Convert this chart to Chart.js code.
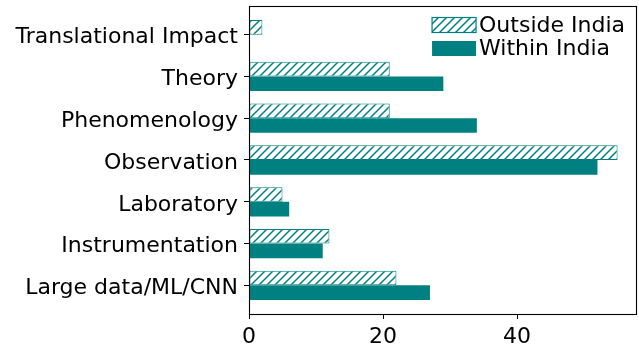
<!DOCTYPE html>
<html>
<head>
<meta charset="utf-8">
<script src="https://cdn.jsdelivr.net/npm/chart.js@4/dist/chart.umd.min.js"></script>
<style>
  html, body { margin: 0; padding: 0; background: #fff; }
  canvas { display: block; }
</style>
</head>
<body>
<canvas id="chart" width="639" height="346"></canvas>
<script>
// Research areas, listed bottom to top
const categories = [
  'Large data/ML/CNN',
  'Instrumentation',
  'Laboratory',
  'Observation',
  'Phenomenology',
  'Theory',
  'Translational Impact'
];
const outsideIndia = [22, 12, 5, 55, 21, 21, 2];
const withinIndia  = [27, 11, 6, 52, 34, 29, 0];
const xTicks = [0, 20, 40];

const TEAL = '#008080';

// Diagonal "//" hatch fill
function makeHatch(color) {
  const s = 8;
  const c = document.createElement('canvas');
  c.width = s; c.height = s;
  const g = c.getContext('2d');
  g.fillStyle = '#fff';
  g.fillRect(0, 0, s, s);
  g.strokeStyle = color;
  g.lineWidth = 1.5;
  g.beginPath();
  g.moveTo(-1, s + 1); g.lineTo(s + 1, -1);
  g.moveTo(-1, 1); g.lineTo(1, -1);
  g.moveTo(s - 1, s + 1); g.lineTo(s + 1, s - 1);
  g.stroke();
  return g.createPattern(c, 'repeat');
}

Chart.defaults.font.family = "'DejaVu Sans', sans-serif";
Chart.defaults.font.size = 22;
Chart.defaults.color = '#000';

// Box around the plotting area
const frame = {
  id: 'frame',
  afterDatasetsDraw(chart) {
    const { ctx, chartArea: a } = chart;
    ctx.save();
    ctx.strokeStyle = '#000';
    ctx.lineWidth = 1.1;
    ctx.strokeRect(Math.round(a.left) + 0.5, Math.round(a.top) + 0.5,
                   Math.round(a.right - a.left), Math.round(a.bottom - a.top));
    ctx.restore();
  }
};

// Legend drawn inside the upper-right corner of the plot
const innerLegend = {
  id: 'innerLegend',
  afterDraw(chart) {
    const { ctx, chartArea: a } = chart;
    const sets = chart.data.datasets;
    const textRight = a.right - 11;
    ctx.save();
    ctx.font = "22px 'DejaVu Sans', sans-serif";
    ctx.textBaseline = 'middle';
    ctx.textAlign = 'left';
    const widths = sets.map(d => ctx.measureText(d.label).width);
    const tw = Math.max(...widths);
    const textX = textRight - tw;
    const boxW = 44, boxH = 15;
    const boxX = textX - 3 - boxW;
    sets.forEach((d, i) => {
      const cy = a.top + 19 + i * 23.5;
      ctx.fillStyle = d.backgroundColor;
      ctx.fillRect(boxX, cy - boxH / 2, boxW, boxH);
      if (d.borderWidth) {
        ctx.strokeStyle = d.borderColor;
        ctx.lineWidth = 1.2;
        ctx.strokeRect(boxX, cy - boxH / 2, boxW, boxH);
      }
      ctx.fillStyle = '#000';
      ctx.fillText(d.label, textX, cy + 1);
    });
    ctx.restore();
  }
};

const toPoints = vals => vals.map((v, i) => ({ x: v, y: i }));

new Chart(document.getElementById('chart'), {
  type: 'bar',
  data: {
    datasets: [
      {
        label: 'Outside India',
        data: toPoints(outsideIndia),
        backgroundColor: makeHatch(TEAL),
        borderColor: TEAL,
        borderWidth: 1,
        borderSkipped: false
      },
      {
        label: 'Within India',
        data: toPoints(withinIndia),
        backgroundColor: TEAL,
        borderWidth: 0
      }
    ]
  },
  options: {
    indexAxis: 'y',
    responsive: false,
    animation: false,
    devicePixelRatio: 1,
    categoryPercentage: 0.7,
    barPercentage: 1.0,
    layout: { padding: { left: 0, top: 6, right: 3, bottom: 0 } },
    plugins: {
      legend: { display: false },
      tooltip: { enabled: false }
    },
    scales: {
      x: {
        type: 'linear',
        min: 0,
        max: 57.75,
        afterBuildTicks(scale) { scale.ticks = xTicks.map(v => ({ value: v })); },
        afterFit(scale) {
          scale.height = 32;
          scale.paddingLeft = 0; scale.paddingRight = 0;
        },
        ticks: { padding: 5, color: '#000', font: { size: 22 } },
        grid: { drawOnChartArea: false, drawTicks: true, tickLength: 5, tickColor: '#000', tickWidth: 1 },
        border: { display: false }
      },
      y: {
        type: 'linear',
        offset: false,
        min: -0.685,
        max: 6.685,
        afterBuildTicks(scale) { scale.ticks = categories.map((c, i) => ({ value: i })); },
        afterFit(scale) {
          scale.width = 249;
          scale.paddingTop = 0; scale.paddingBottom = 0;
        },
        ticks: {
          padding: 6,
          labelOffset: 3,
          color: '#000',
          font: { size: 22 },
          callback: v => categories[v]
        },
        grid: { offset: false, drawOnChartArea: false, drawTicks: true, tickLength: 5, tickColor: '#000', tickWidth: 1 },
        border: { display: false }
      }
    }
  },
  plugins: [frame, innerLegend]
});
</script>
</body>
</html>
